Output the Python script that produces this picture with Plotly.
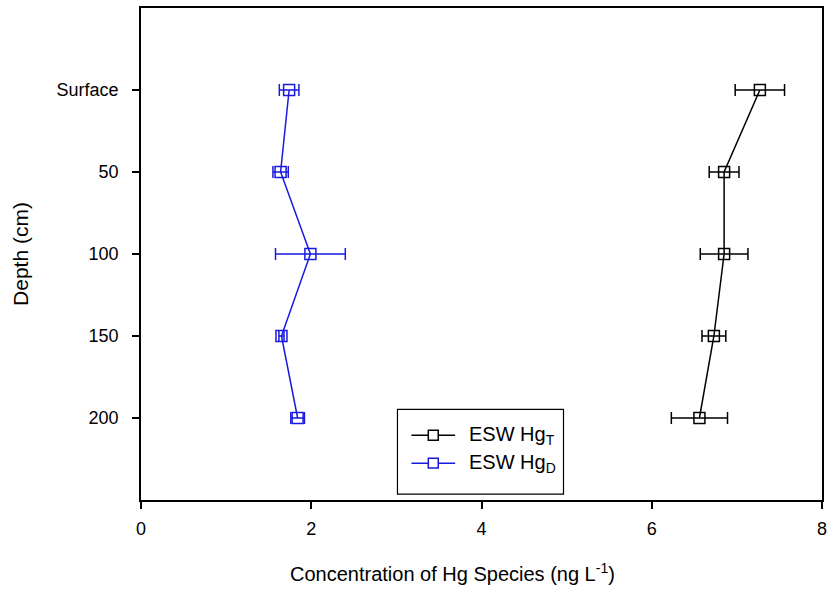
import plotly.graph_objects as go

depth = [0, 50, 100, 150, 200]
depth_labels = ["Surface", "50", "100", "150", "200"]

hgt_vals = [7.27, 6.85, 6.85, 6.73, 6.56]
hgt_err = [0.29, 0.175, 0.28, 0.14, 0.33]

hgd_vals = [1.74, 1.64, 1.99, 1.65, 1.84]
hgd_err = [0.115, 0.09, 0.41, 0.03, 0.08]

series_names = ["ESW Hg<sub>T</sub>", "ESW Hg<sub>D</sub>"]
series_colors = ["black", "#1a1adf"]

x_ticks = [0, 2, 4, 6, 8]

font_family = "Liberation Sans, Arial, sans-serif"

fig = go.Figure()
for vals, errs, name, col in [(hgt_vals, hgt_err, series_names[0], series_colors[0]),
                              (hgd_vals, hgd_err, series_names[1], series_colors[1])]:
    fig.add_trace(go.Scatter(
        x=vals, y=depth, mode="lines+markers", name=name, showlegend=False,
        line=dict(color=col, width=1.5),
        marker=dict(symbol="square-open", size=11, color=col, line=dict(width=1.5)),
        error_x=dict(type="data", array=errs, color=col, thickness=1.5, width=6),
    ))

# legend box drawn in paper coordinates
fig.add_shape(type="rect", xref="paper", yref="paper",
              x0=0.3766, x1=0.6204, y0=0.0121, y1=0.1842,
              line=dict(color="black", width=1.2), fillcolor="white", layer="above")
legend_rows_y = [0.1316, 0.0749]
for ly, name, col in zip(legend_rows_y, series_names, series_colors):
    fig.add_shape(type="line", xref="paper", yref="paper",
                  x0=0.3971, x1=0.4613, y0=ly, y1=ly,
                  line=dict(color=col, width=1.5), layer="above")
    fig.add_shape(type="rect", xref="paper", yref="paper",
                  x0=0.4292 - 0.0073, x1=0.4292 + 0.0073,
                  y0=ly - 0.0101, y1=ly + 0.0101,
                  line=dict(color=col, width=1.5), fillcolor="white", layer="above")
    fig.add_annotation(xref="paper", yref="paper", x=0.4788, y=ly,
                       xanchor="left", yanchor="middle", showarrow=False,
                       text=name, font=dict(size=20, color="black"))

# x-axis title (slightly left of centre, as in the original)
fig.add_annotation(xref="paper", yref="paper", x=0.457, y=-0.148,
                   xanchor="center", yanchor="middle", showarrow=False,
                   text="Concentration of Hg Species (ng L<sup>-1</sup>)",
                   font=dict(size=20, color="black"))

fig.update_layout(
    width=833, height=592,
    margin=dict(l=141, r=7, t=6, b=92),
    plot_bgcolor="white", paper_bgcolor="white",
    font=dict(family=font_family, size=18, color="black"),
    showlegend=False,
    xaxis=dict(
        range=[0, 8], tickvals=x_ticks, ticktext=[str(v) for v in x_ticks],
        showgrid=False, zeroline=False,
        showline=True, linecolor="black", linewidth=1.5, mirror=True,
        ticks="outside", ticklen=7, tickwidth=1.5, tickcolor="black",
        tickfont=dict(size=18), ticklabelstandoff=5,
    ),
    yaxis=dict(
        range=[250, -50], tickvals=depth, ticktext=depth_labels,
        showgrid=False, zeroline=False,
        showline=True, linecolor="black", linewidth=1.5, mirror=True,
        ticks="outside", ticklen=7, tickwidth=1.5, tickcolor="black",
        tickfont=dict(size=18), ticklabelstandoff=10,
        title=dict(text="Depth (cm)", font=dict(size=21), standoff=22),
    ),
)

fig.write_html("out.html")
